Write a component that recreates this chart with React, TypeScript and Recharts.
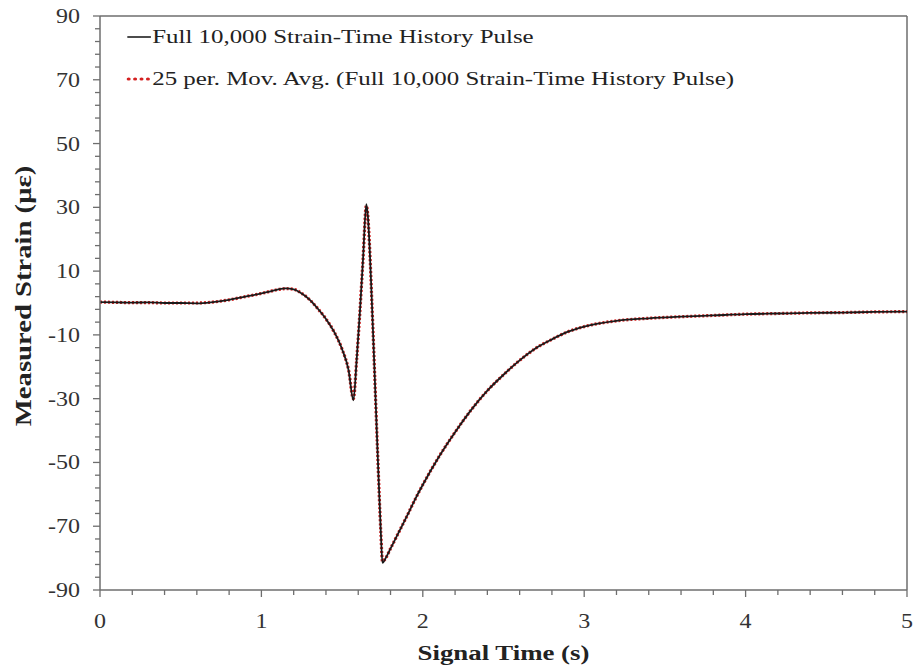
import React from 'react';
import { LineChart, Line, XAxis, YAxis, ReferenceLine, Label } from 'recharts';

const times = [
  0, 0.1, 0.2, 0.3, 0.4, 0.5, 0.6, 0.7, 0.8, 0.9, 1.0, 1.05, 1.1, 1.15, 1.2, 1.25, 1.3, 1.35, 1.4, 1.45,
  1.5, 1.54, 1.57, 1.59, 1.61, 1.63, 1.65, 1.66, 1.67, 1.68, 1.7, 1.72, 1.74, 1.75, 1.77, 1.8, 1.85, 1.9,
  1.95, 2.0, 2.1, 2.2, 2.3, 2.4, 2.5, 2.6, 2.7, 2.8, 2.9, 3.0, 3.2, 3.4, 3.6, 3.8, 4.0, 4.2, 4.4, 4.6, 4.8, 5.0,
];

// full strain-time history pulse
const strainFull = [
  0.3, 0.2, 0.1, 0.2, 0.0, 0.0, -0.1, 0.3, 1.0, 2.0, 3.0, 3.6, 4.2, 4.6, 4.3, 3.0, 1.0, -1.8, -5.0, -9.0,
  -14.5, -21, -30.5, -18, -3, 14, 31, 27, 18, 6, -20, -47, -72, -81.5, -80, -77, -72, -67,
  -61.8, -57, -48.2, -40.5, -33.5, -27.5, -22.5, -18, -14.2, -11.4, -9.0, -7.4, -5.6, -4.8, -4.3, -3.9, -3.5, -3.3, -3.1, -3.0, -2.8, -2.7,
];

// 25 period moving average
const strainAvg = [
  0.3, 0.2, 0.1, 0.1, 0.0, 0.0, 0.0, 0.3, 1.0, 2.0, 3.0, 3.6, 4.2, 4.5, 4.3, 3.0, 1.0, -1.8, -5.0, -9.0,
  -14.5, -21, -30, -18, -3, 14, 30.5, 27, 18, 6, -20, -47, -72, -81, -80, -77, -72, -67,
  -61.8, -57, -48.2, -40.5, -33.5, -27.5, -22.5, -18, -14.2, -11.4, -9.0, -7.4, -5.6, -4.8, -4.3, -3.9, -3.5, -3.3, -3.1, -3.0, -2.8, -2.7,
];

const xMajor = [0, 1, 2, 3, 4, 5];
const yMajor = [-90, -70, -50, -30, -10, 10, 30, 50, 70, 90];

const xTicks = Array.from({ length: 26 }, (_, i) => +(i * 0.2).toFixed(1));
const yTicks = Array.from({ length: 46 }, (_, i) => -90 + i * 4);

const data = times.map((t, i) => ({ t, full: strainFull[i], avg: strainAvg[i] }));

const FONT = '"Liberation Serif", "Times New Roman", serif';
const AXIS = '#6e6e6e';

const YTick = (props: any) => {
  const { x, y, payload } = props;
  const major = yMajor.includes(payload.value);
  return (
    <g>
      <line x1={x - (major ? 7 : 5)} x2={x} y1={y} y2={y} stroke={AXIS} strokeWidth={1.3} />
      {major && (
        <text
          transform={`translate(${x - 20},${y}) scale(1.2,1)`}
          dy="0.35em"
          textAnchor="end"
          fontFamily={FONT}
          fontSize={20}
          fill="#333"
        >
          {payload.value}
        </text>
      )}
    </g>
  );
};

const XTick = (props: any) => {
  const { x, y, payload } = props;
  const major = xMajor.includes(payload.value);
  return (
    <g>
      <line x1={x} x2={x} y1={y} y2={y + (major ? 7 : 5)} stroke={AXIS} strokeWidth={1.3} />
      {major && (
        <text
          transform={`translate(${x},${y + 38}) scale(1.2,1)`}
          textAnchor="middle"
          fontFamily={FONT}
          fontSize={20}
          fill="#333"
        >
          {payload.value}
        </text>
      )}
    </g>
  );
};

const LegendBox = () => (
  <div
    style={{
      position: 'absolute',
      left: 126,
      top: 16,
      fontFamily: FONT,
      fontSize: 19,
      color: '#222',
      lineHeight: '42px',
      transform: 'scaleX(1.31)',
      transformOrigin: 'left top',
      whiteSpace: 'nowrap',
    }}
  >
    <div style={{ display: 'flex', alignItems: 'center' }}>
      <svg width={20} height={10}>
        <line x1={1} x2={19} y1={5} y2={5} stroke="#111" strokeWidth={1.5} />
      </svg>
      <span>Full 10,000 Strain-Time History Pulse</span>
    </div>
    <div style={{ display: 'flex', alignItems: 'center' }}>
      <svg width={20} height={10}>
        <line x1={2} x2={19} y1={5} y2={5} stroke="#d42020" strokeWidth={3} strokeDasharray="0.1 4.8" strokeLinecap="round" />
      </svg>
      <span>25 per. Mov. Avg. (Full 10,000 Strain-Time History Pulse)</span>
    </div>
  </div>
);

export default function App() {
  return (
    <div style={{ position: 'absolute', left: 0, top: 0, width: 913, height: 668, background: '#fff' }}>
      <LineChart width={913} height={668} data={data} margin={{ top: 16, right: 6, bottom: 0, left: 0 }}>
        <XAxis
          dataKey="t"
          type="number"
          domain={[0, 5]}
          ticks={xTicks}
          interval={0}
          height={78}
          tickSize={0}
          tickMargin={0}
          tick={<XTick />}
          stroke={AXIS}
          strokeWidth={1.5}
        >
          <Label
            content={({ viewBox }: any) => (
              <text
                transform={`translate(${viewBox.x + viewBox.width / 2},${viewBox.y + 70}) scale(1.22,1)`}
                textAnchor="middle"
                fontFamily={FONT}
                fontSize={22}
                fontWeight="bold"
                fill="#222"
              >
                Signal Time (s)
              </text>
            )}
          />
        </XAxis>
        <YAxis
          type="number"
          domain={[-90, 90]}
          ticks={yTicks}
          interval={0}
          width={100}
          tickSize={0}
          tickMargin={0}
          tick={<YTick />}
          stroke={AXIS}
          strokeWidth={1.5}
        >
          <Label
            content={() => (
              <text
                transform="translate(23,296) rotate(-90) scale(1.22,1)"
                textAnchor="middle"
                dy="0.35em"
                fontFamily={FONT}
                fontSize={23.5}
                fontWeight="bold"
                fill="#222"
              >
                Measured Strain (με)
              </text>
            )}
          />
        </YAxis>
        <ReferenceLine y={90} stroke={AXIS} strokeWidth={1.5} />
        <ReferenceLine x={5} stroke={AXIS} strokeWidth={1.5} />
        <Line
          dataKey="avg"
          type="monotone"
          stroke="#d42020"
          strokeWidth={3.2}
          strokeDasharray="2 2"
          dot={false}
          isAnimationActive={false}
        />
        <Line dataKey="full" type="monotone" stroke="#1a1a1a" strokeWidth={1.8} dot={false} isAnimationActive={false} />
      </LineChart>
      <LegendBox />
    </div>
  );
}
